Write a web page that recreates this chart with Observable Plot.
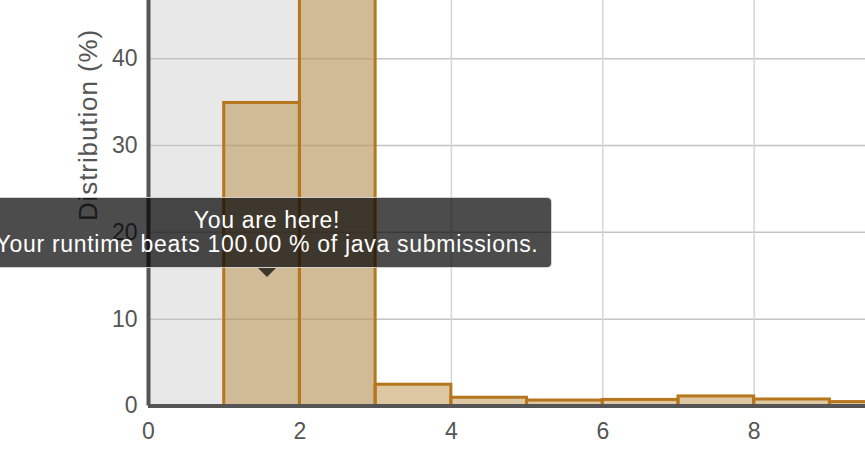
<!DOCTYPE html>
<html>
<head>
<meta charset="utf-8">
<script src="https://cdn.jsdelivr.net/npm/d3@7"></script>
<script src="https://cdn.jsdelivr.net/npm/@observablehq/plot@0.6"></script>
<style>
  html, body { margin: 0; padding: 0; background: #fff; }
  #wrap { position: relative; width: 865px; height: 453px; overflow: hidden; font-family: "Liberation Sans", Arial, Helvetica, sans-serif; }
  #tip {
    position: absolute; left: -18px; top: 197px; width: 570px; height: 71px;
    background: rgba(0,0,0,0.7); border: 1px solid rgba(255,255,255,0.75);
    border-radius: 5px; box-sizing: border-box;
    color: #fff; text-align: center; font-size: 23px; line-height: 24px;
    letter-spacing: 0.7px; padding-top: 10px;
  }
  #arrow {
    position: absolute; left: 258px; top: 268px; width: 0; height: 0;
    border-left: 9px solid transparent; border-right: 9px solid transparent;
    border-top: 9px solid rgba(0,0,0,0.7);
  }
</style>
</head>
<body>
<div id="wrap"></div>
<script>
// Runtime bins (ms) and distribution (%)
const binStart = [1, 2, 3, 4, 5, 6, 7, 8, 9];
const binEnd   = [2, 3, 4, 5, 6, 7, 8, 9, 10];
const share    = [34.9, 60, 2.45, 0.95, 0.63, 0.7, 1.1, 0.75, 0.45];
const highlight = [[0, 3]];           // shaded runtime range
const xTicks = [0, 2, 4, 6, 8];
const yTicks = [0, 10, 20, 30, 40];
const yLabel = "Distribution (%)";
const tipLines = ["You are here!", "Your runtime beats 100.00 % of java submissions."];

const bars = binStart.map((s, i) => ({x1: s, x2: binEnd[i], y: share[i]}));
const font = "'Liberation Sans', Arial, Helvetica, sans-serif";

const chart = Plot.plot({
  width: 865,
  height: 453,
  marginLeft: 148,
  marginRight: 0,
  marginTop: 0,
  marginBottom: 47.5,
  style: {fontFamily: font, background: "#fff", overflow: "visible"},
  x: {domain: [0, 9.47], ticks: xTicks},
  y: {domain: [0, 46.7], ticks: yTicks},
  marks: [
    Plot.rect(highlight, {x1: d => d[0], x2: d => d[1], y1: 0, y2: 46.7, fill: "#e8e8e8"}),
    Plot.ruleY(yTicks.filter(d => d > 0), {stroke: "#c4c4c4", strokeWidth: 1.5}),
    Plot.ruleX(xTicks.filter(d => d > 0), {stroke: "#d6d6d6", strokeWidth: 1.5}),
    Plot.rect(bars, {x1: "x1", x2: "x2", y1: 0, y2: "y", fill: "rgb(182,131,51)", fillOpacity: 0.45,
      stroke: "#b5761d", strokeWidth: 3, clip: true}),
    Plot.ruleX([0], {stroke: "#555", strokeWidth: 4}),
    Plot.ruleY([0], {stroke: "#555", strokeWidth: 4}),
    Plot.axisX(xTicks, {tickSize: 0, tickPadding: 17, fontSize: 23, fill: "#555", label: null}),
    Plot.axisY(yTicks, {tickSize: 0, tickPadding: 11, fontSize: 23, fill: "#555", label: null}),
    Plot.text([yLabel], {frameAnchor: "top-left", dx: -59.5, dy: 124.5, rotate: -90,
      textAnchor: "middle", lineAnchor: "middle", fontSize: 26, fill: "#555", text: d => d})
  ]
});

const wrap = document.getElementById("wrap");
wrap.appendChild(chart);
d3.select(chart).selectAll("text").filter(function() { return this.textContent === yLabel; })
  .style("letter-spacing", "0.9px");
const tip = document.createElement("div");
tip.id = "tip";
tip.innerHTML = tipLines.map(t => `<div>${t}</div>`).join("");
wrap.appendChild(tip);
const arrow = document.createElement("div");
arrow.id = "arrow";
wrap.appendChild(arrow);
</script>
</body>
</html>
